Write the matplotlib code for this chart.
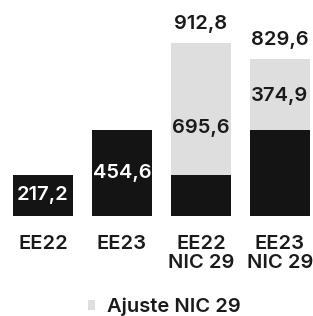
import matplotlib

matplotlib.use("Agg")
import matplotlib.pyplot as plt  # noqa: E402
import numpy as np  # noqa: E402

plt.rcParams["font.family"] = ["Inter", "DejaVu Sans"]

# datos
categorias = ["EE22", "EE23", "EE22\nNIC 29", "EE23\nNIC 29"]
base = [217.2, 454.6, 217.2, 454.6]
ajuste = [0.0, 0.0, 695.6, 374.9]
totales = [None, None, 912.8, 829.6]
etiq_base = ["217,2", "454,6", None, None]
etiq_ajuste = [None, None, "695,6", "374,9"]
etiq_total = [None, None, "912,8", "829,6"]

NEGRO = "#141414"
GRIS = "#dedede"
TXT = "#1a1a1a"

fig = plt.figure(figsize=(3.13, 3.16), dpi=100)
ax = fig.add_axes([0, 0.3165, 1, 0.6835])
x = np.arange(len(categorias))
w = 0.76
ax.bar(x, base, w, color=NEGRO)
ax.bar(x, ajuste, w, bottom=base, color=GRIS, label="Ajuste NIC 29")

fs = 14.5
fw = "semibold"
for i in range(len(x)):
    if etiq_base[i]:
        ax.text(x[i], base[i] / 2, etiq_base[i], ha="center", va="center",
                color="white", fontsize=fs, fontweight=fw)
    if etiq_ajuste[i]:
        frac = 0.36 if i == 2 else 0.48
        ax.text(x[i], base[i] + ajuste[i] * frac, etiq_ajuste[i], ha="center",
                va="center", color=TXT, fontsize=fs, fontweight=fw)
    if etiq_total[i]:
        ax.annotate(etiq_total[i], (x[i], totales[i]), xytext=(0, 14),
                    textcoords="offset points", ha="center", va="center",
                    color=TXT, fontsize=fs, fontweight=fw)

ax.set_xlim(-0.545, 3.42)
ax.set_ylim(0, 1143)
ax.set_xticks(x)
ax.set_xticklabels(categorias, fontsize=fs, color=TXT, linespacing=1.05,
                   fontweight=fw)
ax.tick_params(axis="x", length=0, pad=14)
ax.set_yticks([])
for s in ax.spines.values():
    s.set_visible(False)

leg = fig.legend(loc="center", bbox_to_anchor=(0.525, 0.028), frameon=False,
                 fontsize=fs, handlelength=0.35, handleheight=0.35,
                 handletextpad=0.6, labelcolor=TXT)
for t in leg.get_texts():
    t.set_fontweight(fw)

fig.savefig("out.png", dpi=100)
